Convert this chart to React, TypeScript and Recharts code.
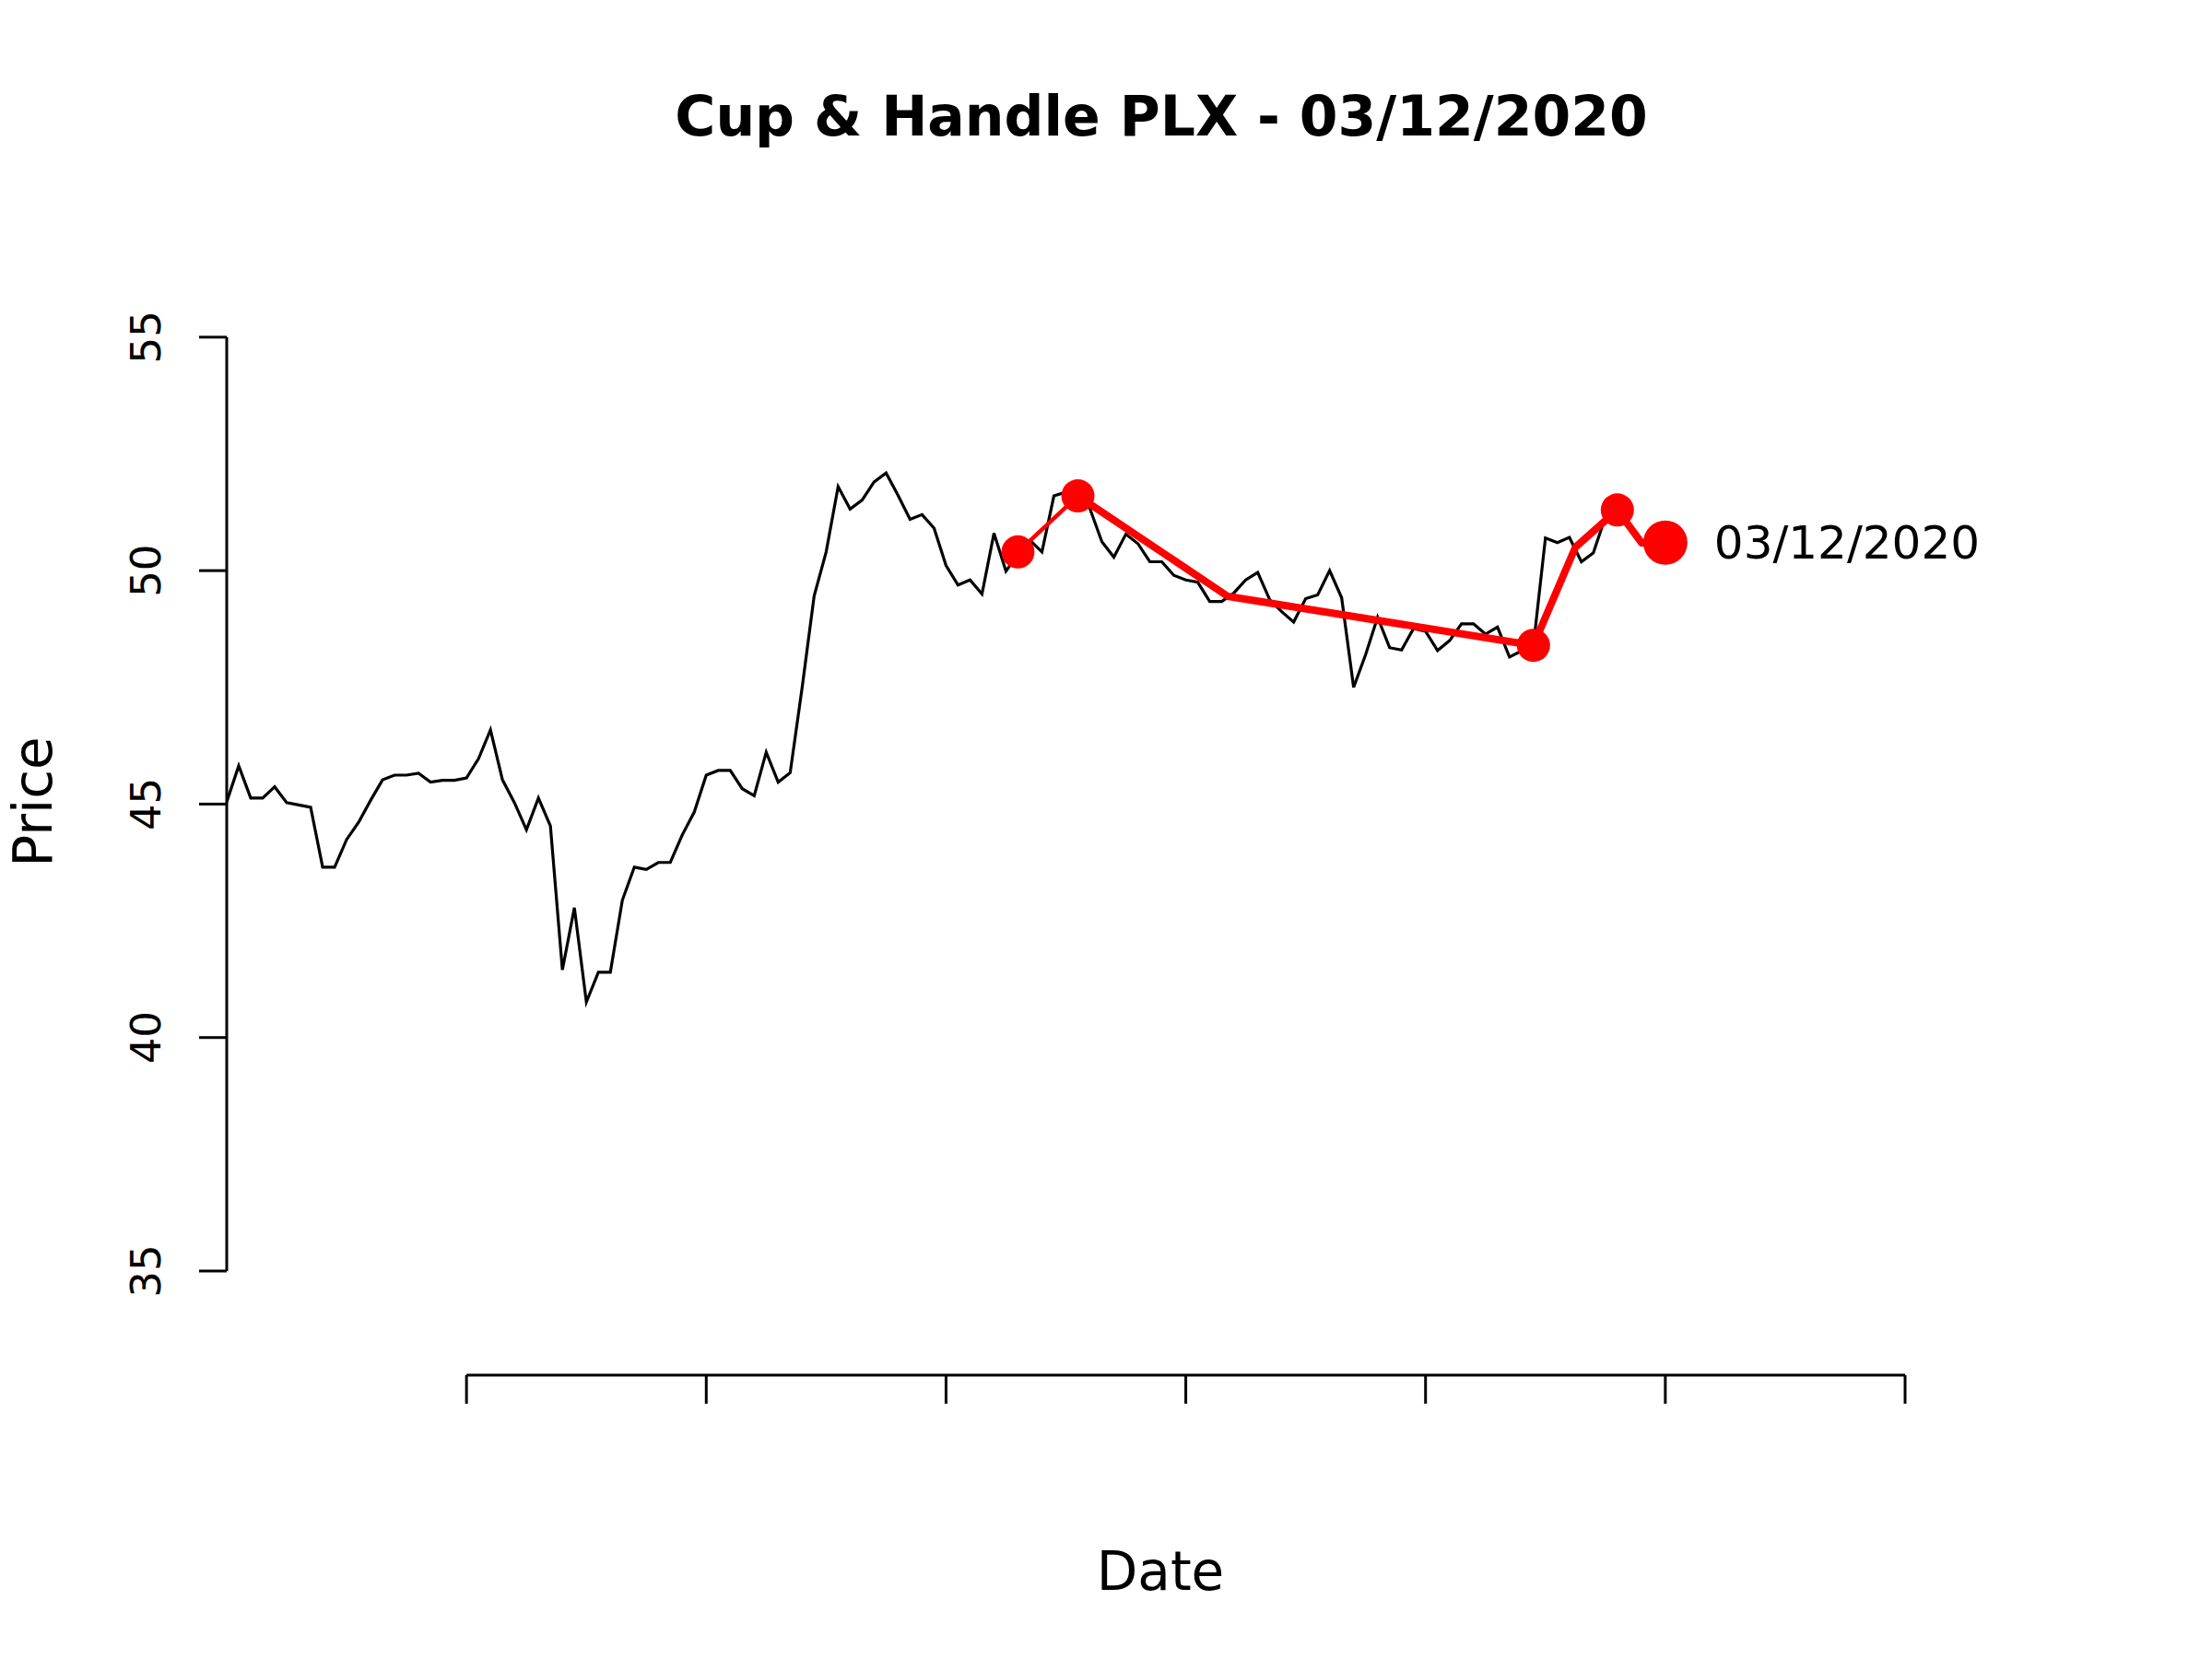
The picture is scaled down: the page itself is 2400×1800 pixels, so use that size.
import { ComposedChart, Line, XAxis, YAxis, ReferenceLine, LabelList } from "recharts";

// closing prices, one per trading day (index = day number)
const closePrices = [
    45.05, 45.82, 45.13, 45.13, 45.37, 45.03, 44.98, 44.93, 43.65, 43.65,
    44.24, 44.61, 45.08, 45.52, 45.62, 45.62, 45.66, 45.47, 45.51, 45.51,
    45.56, 45.97, 46.59, 45.52, 45.03, 44.45, 45.13, 44.53, 41.45, 42.78,
    40.76, 41.40, 41.40, 42.94, 43.65, 43.60, 43.75, 43.75, 44.34, 44.83,
    45.62, 45.72, 45.72, 45.33, 45.18, 46.11, 45.47, 45.67, 47.50, 49.46,
    50.40, 51.80, 51.32, 51.51, 51.90, 52.09, 51.61, 51.10, 51.20, 50.91,
    50.11, 49.69, 49.80, 49.50, 50.80, 49.99, 50.35, 50.65, 50.40, 51.60,
    51.68, 51.60, 51.33, 50.62, 50.29, 50.78, 50.58, 50.19, 50.19, 49.90,
    49.80, 49.75, 49.34, 49.34, 49.52, 49.80, 49.96, 49.38, 49.12, 48.90,
    49.40, 49.48, 50.00, 49.42, 47.50, 48.20, 49.00, 48.35, 48.30, 48.76,
    48.70, 48.29, 48.50, 48.86, 48.86, 48.64, 48.79, 48.15, 48.28, 48.40,
    50.70, 50.60, 50.71, 50.19, 50.38, 51.15, 51.30, 50.90, 50.55, 50.58,
    50.60,
];

// cup & handle outline (red)
const rimX = [66, 71];
const rimY = [50.40, 51.60];
const cupX = [71, 83.5, 109, 112.5, 116, 118, 120];
const cupY = [51.60, 49.45, 48.40, 50.50, 51.30, 50.60, 50.60];
const pivotX = [66, 71, 109, 116];
const pivotY = [50.40, 51.60, 48.40, 51.30];
const lastX = [120];
const lastY = [50.60];
const lastLabel = ["03/12/2020"];

const xTicks = [20, 40, 60, 80, 100, 120, 140];
const yTicks = [35, 40, 45, 50, 55];

const FONT = "DejaVu Sans";
const RED = "#ff0000";
const Y_MIN = 32.77;

const priceData = closePrices.map((p, i) => ({ x: i, y: p }));
const toPoints = (xs: number[], ys: number[]) => xs.map((x, i) => ({ x, y: ys[i] }));
const rimData = toPoints(rimX, rimY);
const cupData = toPoints(cupX, cupY);
const pivotData = toPoints(pivotX, pivotY);
const lastData = lastX.map((x, i) => ({ x, y: lastY[i], label: lastLabel[i] }));

// R-style vertical tick labels
function YTick({ x, y, payload }: any) {
    return (
        <text x={x} y={y} transform={`rotate(-90 ${x} ${y})`} textAnchor="middle"
            fontSize={45} fontFamily={FONT} fill="#000">
            {payload.value}
        </text>
    );
}

const NoTick = () => <g />;

export default function App() {
    return (
        <div style={{ position: "absolute", left: 0, top: 0, width: 2400, height: 1800, background: "#fff" }}>
            <ComposedChart width={2400} height={1800} margin={{ top: 264.5, right: 333, bottom: 268, left: 0 }}>
                <XAxis
                    type="number"
                    dataKey="x"
                    domain={[0, 140]}
                    ticks={xTicks}
                    allowDataOverflow
                    axisLine={false}
                    tickLine={{ stroke: "#000", strokeWidth: 3 }}
                    tickSize={31}
                    tick={NoTick}
                    height={40}
                />
                <YAxis
                    type="number"
                    domain={[Y_MIN, 57]}
                    ticks={yTicks}
                    allowDataOverflow
                    axisLine={false}
                    tickLine={{ stroke: "#000", strokeWidth: 3 }}
                    tickSize={30}
                    tickMargin={42}
                    tick={YTick}
                    width={246}
                />
                <ReferenceLine segment={[{ x: 0, y: 35 }, { x: 0, y: 55 }]} stroke="#000" strokeWidth={3} ifOverflow="visible" />
                <ReferenceLine segment={[{ x: 20, y: Y_MIN }, { x: 140, y: Y_MIN }]} stroke="#000" strokeWidth={3} ifOverflow="visible" />
                <Line data={priceData} dataKey="y" type="linear" stroke="#000" strokeWidth={3.2}
                    dot={false} activeDot={false} isAnimationActive={false} />
                <Line data={rimData} dataKey="y" type="linear" stroke={RED} strokeWidth={4.5}
                    dot={false} activeDot={false} isAnimationActive={false} />
                <Line data={cupData} dataKey="y" type="linear" stroke={RED} strokeWidth={8}
                    strokeLinejoin="round" dot={false} activeDot={false} isAnimationActive={false} />
                <Line data={pivotData} dataKey="y" type="linear" stroke="none"
                    dot={{ r: 18, fill: RED, stroke: "none" }} activeDot={false} isAnimationActive={false} />
                <Line data={lastData} dataKey="y" type="linear" stroke="none"
                    dot={{ r: 24, fill: RED, stroke: "none" }} activeDot={false} isAnimationActive={false}>
                    <LabelList dataKey="label" position="right" offset={53} fontSize={50} fontFamily={FONT} fill="#000" />
                </Line>
            </ComposedChart>
            <svg width={2400} height={1800} style={{ position: "absolute", left: 0, top: 0, pointerEvents: "none" }}>
                <text x={1260} y={147} textAnchor="middle" fontSize={60} fontWeight="bold" fontFamily={FONT}>
                    Cup &amp; Handle PLX - 03/12/2020
                </text>
                <text x={1259} y={1725} textAnchor="middle" fontSize={58} fontFamily={FONT}>
                    Date
                </text>
                <text x={56} y={870} transform="rotate(-90 56 870)" textAnchor="middle" fontSize={58} fontFamily={FONT}>
                    Price
                </text>
            </svg>
        </div>
    );
}
